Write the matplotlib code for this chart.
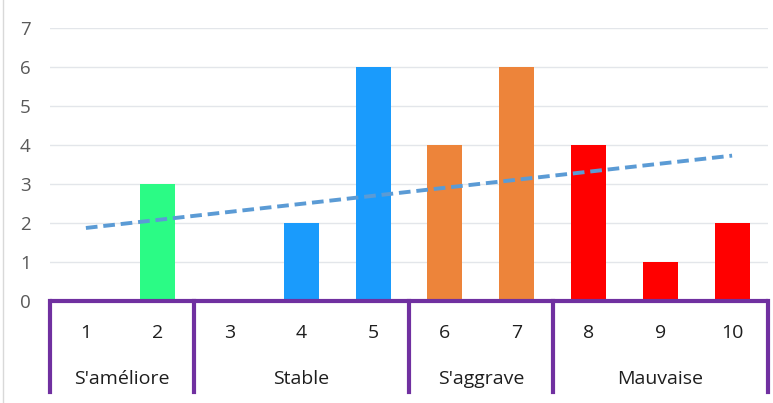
import numpy as np
import matplotlib.pyplot as plt
from matplotlib.lines import Line2D

cats = [1, 2, 3, 4, 5, 6, 7, 8, 9, 10]
values = [0, 3, 0, 2, 6, 4, 6, 4, 1, 2]
groups = ["S'améliore", "Stable", "S'aggrave", "Mauvaise"]
group_sizes = [2, 3, 2, 3]
group_colors = ["#2BFB85", "#1A9BFC", "#ED843A", "#FF0000"]

colors = []
for c, n in zip(group_colors, group_sizes):
    colors += [c] * n

plt.rcParams['font.family'] = ['Open Sans', 'DejaVu Sans']
fig = plt.figure(figsize=(7.73, 4.03), dpi=100)
ax = fig.add_axes([50 / 773, 102 / 403, 718 / 773, 273 / 403])

x = np.array(cats)
ax.bar(x, values, width=0.49, color=colors, zorder=3)

# linear trend line
k, b = np.polyfit(x, values, 1)
ax.plot([x[0], x[-1]], [k * x[0] + b, k * x[-1] + b], color="#5B9BD5",
        lw=2.8, ls=(0, (3.0, 1.5)), zorder=4)

ax.set_xlim(0.5, 10.5)
ax.set_ylim(0, 7)
ax.set_yticks(range(8))
ax.yaxis.grid(True, color="#E3E6EA", lw=1)
ax.set_axisbelow(True)
ax.tick_params(axis="y", length=0, pad=14, labelsize=13.5, labelcolor="#595959")
ax.set_xticks([])
for s in ax.spines.values():
    s.set_visible(False)

purple = "#7030A0"
tr = ax.get_xaxis_transform()
ax.add_line(Line2D([0.5, 10.5], [0, 0], transform=tr, color=purple, lw=3,
                   clip_on=False, zorder=5, solid_capstyle="round"))
bounds = np.concatenate([[0], np.cumsum(group_sizes)]) + 0.5
for bx in bounds:
    ax.add_line(Line2D([bx, bx], [0, -0.335], transform=tr, color=purple, lw=3,
                       clip_on=False, zorder=5))

for c in cats:
    ax.text(c, -0.118, str(c), transform=tr, ha="center", va="center",
            fontsize=14, color="#1E1E1E")

for i, g in enumerate(groups):
    mid = (bounds[i] + bounds[i + 1]) / 2
    ax.text(mid, -0.285, g, transform=tr, ha="center", va="center",
            fontsize=14, color="#1E1E1E")

fig.add_artist(Line2D([3 / 773, 3 / 773], [0, 1], color="#D9D9D9", lw=1))

fig.savefig("out.png", dpi=100)
